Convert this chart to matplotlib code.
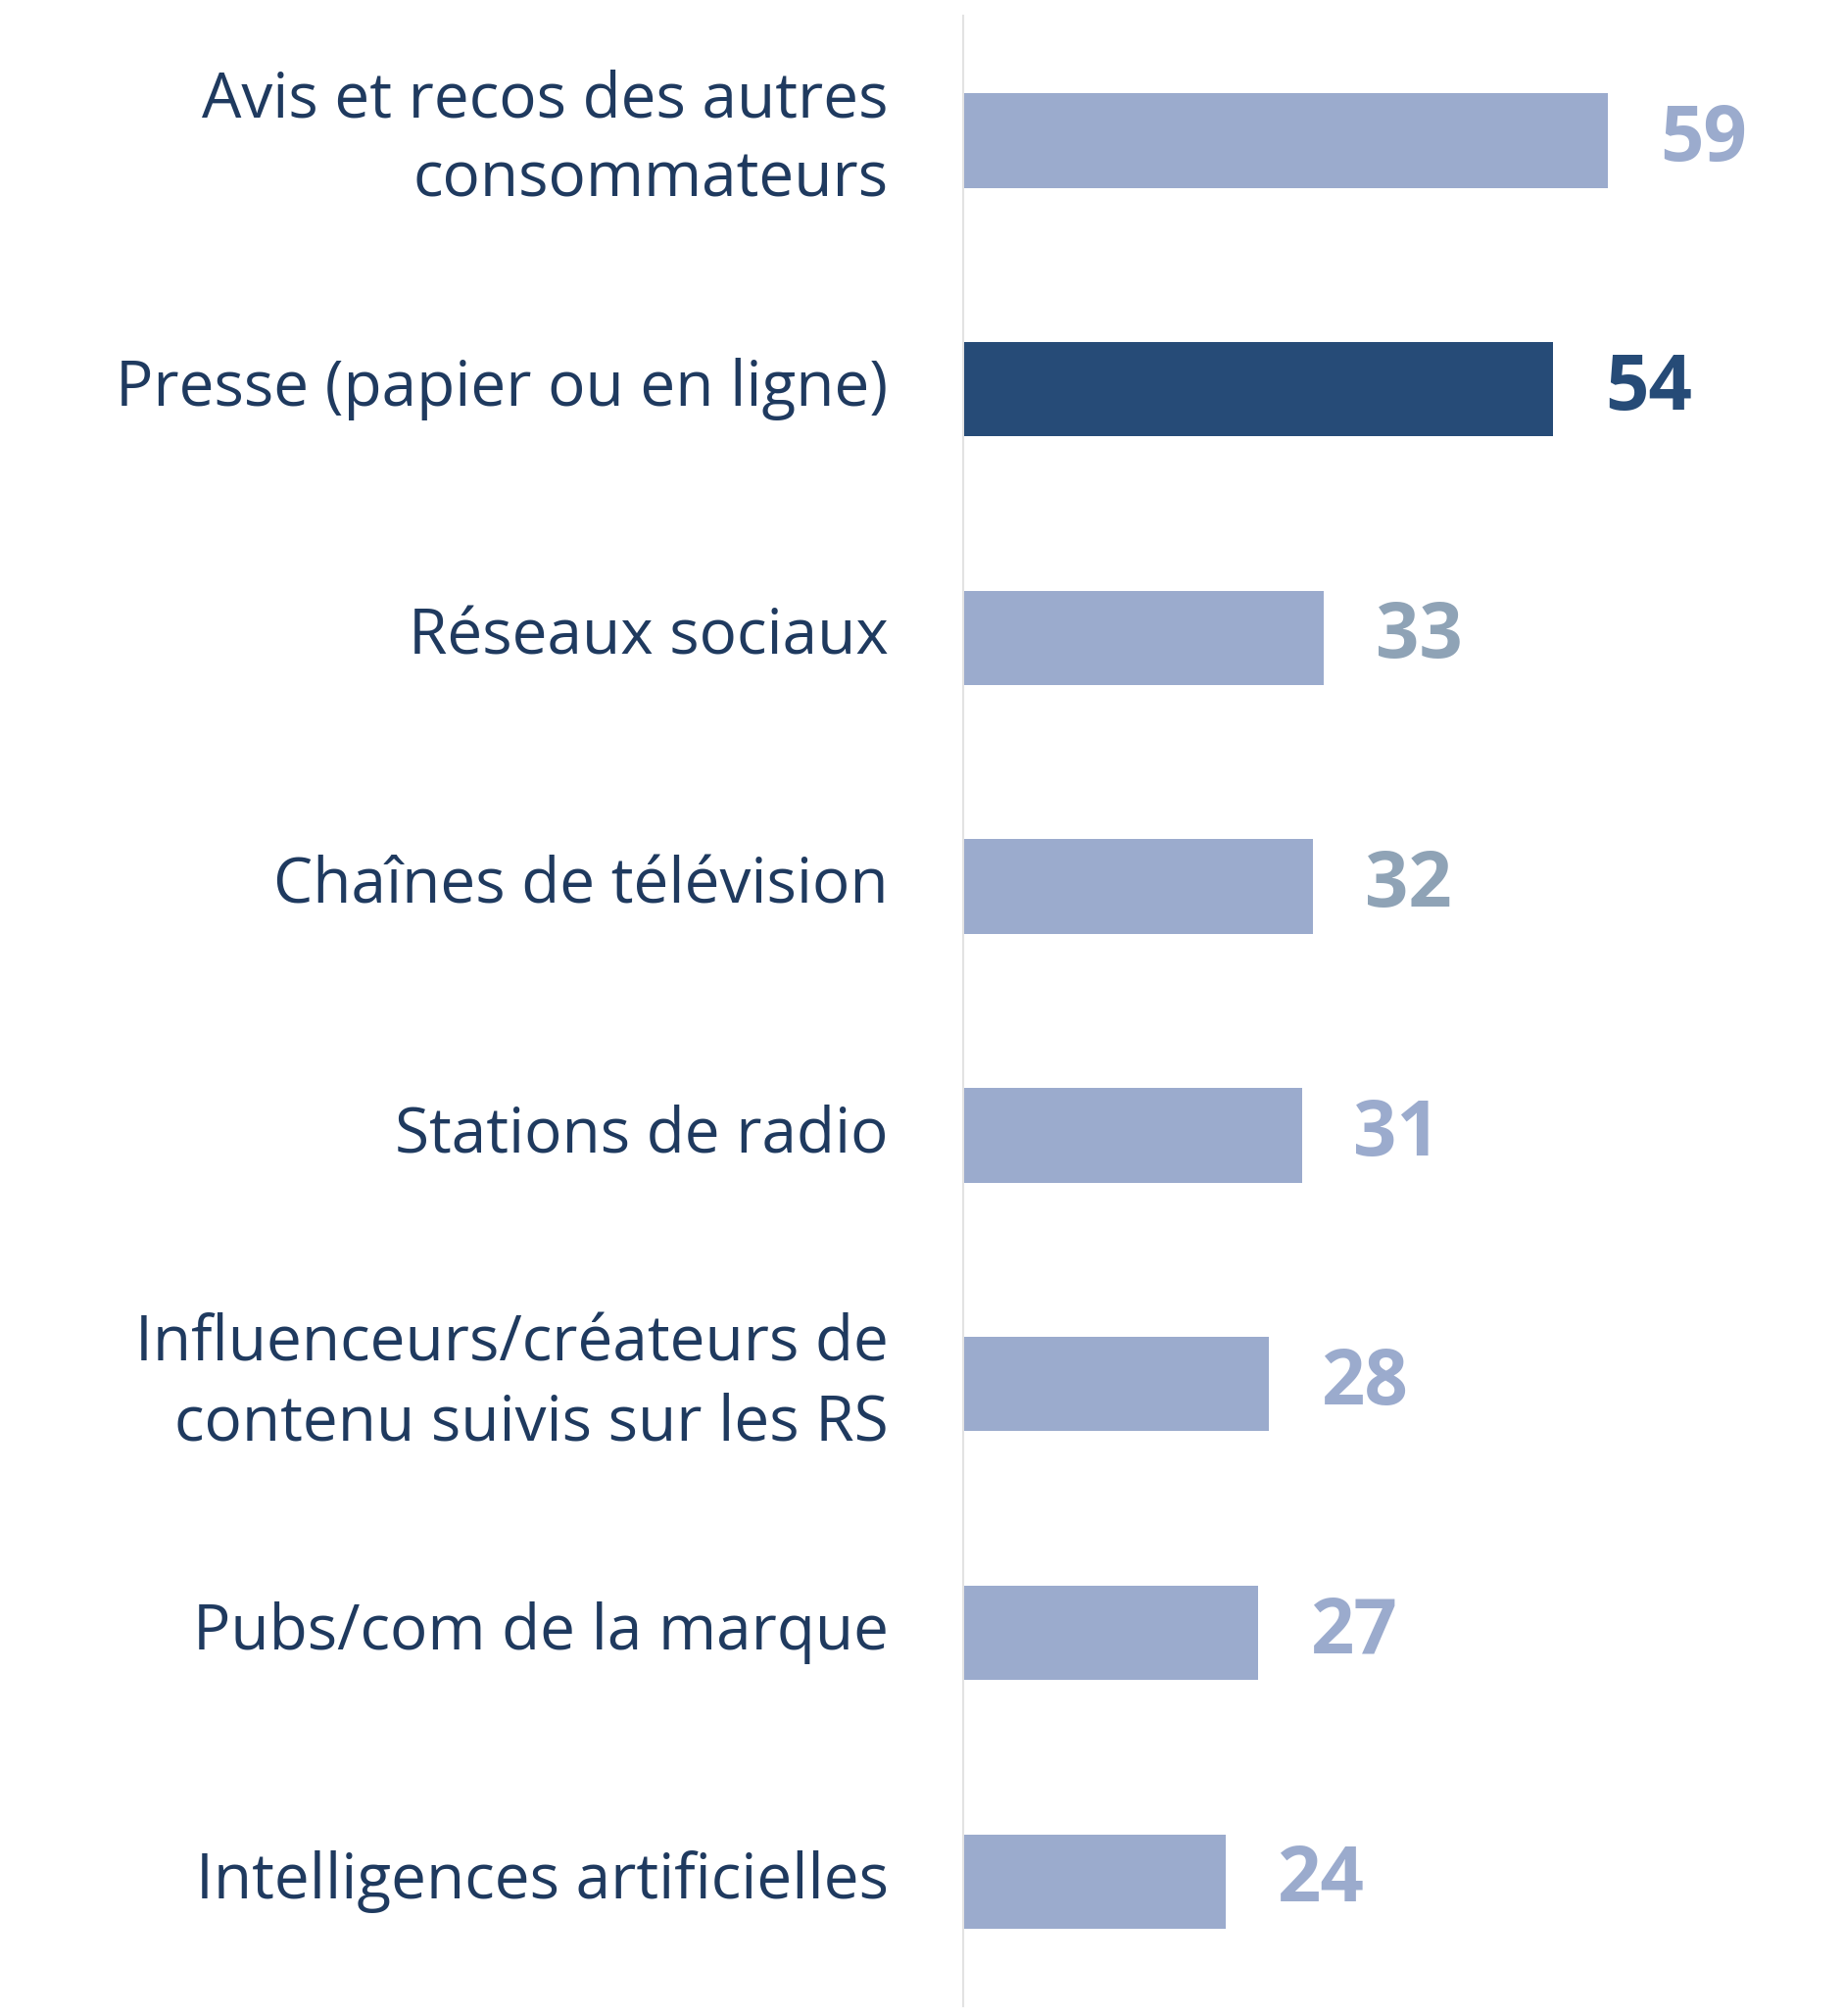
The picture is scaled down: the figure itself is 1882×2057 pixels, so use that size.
import matplotlib.pyplot as plt

categories = ["Avis et recos des autres\nconsommateurs", "Presse (papier ou en ligne)",
              "Réseaux sociaux", "Chaînes de télévision", "Stations de radio",
              "Influenceurs/créateurs de\ncontenu suivis sur les RS",
              "Pubs/com de la marque", "Intelligences artificielles"]
values = [59, 54, 33, 32, 31, 28, 27, 24]

LIGHT = "#9BABCD"
DARK = "#264B77"
GREY = "#8FA3B6"
bar_colors = [LIGHT, DARK, LIGHT, LIGHT, LIGHT, LIGHT, LIGHT, LIGHT]
value_colors = [LIGHT, DARK, GREY, GREY, LIGHT, LIGHT, LIGHT, LIGHT]
TEXT = "#1F3A5F"

plt.rcParams['font.family'] = ['Open Sans', 'DejaVu Sans']
fig = plt.figure(figsize=(18.83, 20.57), dpi=100)
ax = fig.add_axes([0.522, 0.005, 0.478, 0.987])

y = list(range(len(values)))
ax.barh(y, values, height=0.38, color=bar_colors)
ax.set_xlim(0, 80.7)
ax.set_ylim(len(values) - 0.5, -0.5)

for i, (v, c) in enumerate(zip(values, value_colors)):
    ax.annotate(str(v), (v, i), xytext=(38, 0), textcoords="offset points",
                ha="left", va="center", fontsize=56, fontweight="bold", color=c)
    ax.annotate(categories[i], (0, i), xytext=(-55, 0), textcoords="offset points",
                ha="right", va="center", fontsize=46, color=TEXT, linespacing=1.35)

for s in ["top", "right", "bottom"]:
    ax.spines[s].set_visible(False)
ax.spines["left"].set_color("#E3E3E3")
ax.spines["left"].set_linewidth(1.5)
ax.set_xticks([])
ax.set_yticks([])

fig.savefig("out.png", dpi=100)
